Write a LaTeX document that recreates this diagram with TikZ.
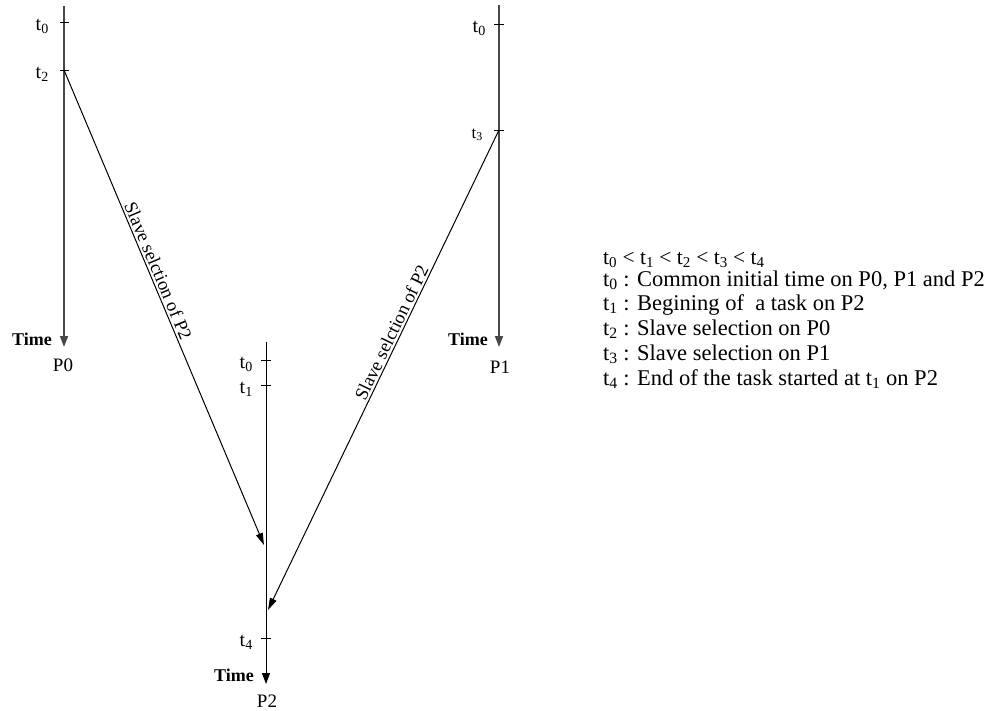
\documentclass[tikz,border=0pt]{standalone}
\usepackage{fontspec}
\setmainfont{Liberation Serif}
\usetikzlibrary{arrows.meta}
\begin{document}
\begin{tikzpicture}[x=1pt,y=-1pt,
  axisg/.style={line width=1.6pt, draw=black!72, -{Triangle[width=8pt,length=11pt]}},
  axisb/.style={line width=1pt, draw=black, -{Triangle[width=8pt,length=11pt]}},
  msg/.style={line width=1pt, draw=black, -{Triangle[width=7pt,length=12pt]}},
  tickmark/.style={line width=1pt, draw=black},
  tlab/.style={inner sep=0pt, anchor=base east, font=\fontsize{20}{23}\selectfont},
  tlabs/.style={inner sep=0pt, anchor=base east, font=\fontsize{17}{20}\selectfont},
  timelab/.style={inner sep=0pt, anchor=base east, font=\fontsize{18}{21}\selectfont\bfseries},
  plab/.style={inner sep=0pt, anchor=base, font=\fontsize{19}{22}\selectfont},
  slab/.style={inner sep=2pt, font=\fontsize{18.5}{21}\selectfont, sloped, above},
  leg/.style={inner sep=0pt, anchor=base west, font=\fontsize{22.5}{26}\selectfont},
  legsmall/.style={inner sep=0pt, anchor=base west, font=\fontsize{21.5}{25}\selectfont}
]
\useasboundingbox (0,0) rectangle (991,710);

% ---- P0 axis
\coordinate (p0top) at (64,6);
\coordinate (p0end) at (64,347);
\coordinate (p0t0) at (64,22);
\coordinate (p0t2) at (64,70);
\draw[axisg] (p0top) -- (p0end);
\draw[tickmark] (p0t0) ++(-4,0) -- ++(9,0);
\draw[tickmark] (p0t2) ++(-4,0) -- ++(9,0);
\node[tlab] (l0t0) at (49,30) {t\textsubscript{0}};
\node[tlab] (l0t2) at (49,78) {t\textsubscript{2}};
\node[timelab] (time0) at (52,345) {Time};
\node[plab] (P0) at (63,371) {P0};

% ---- P1 axis
\coordinate (p1top) at (499,5);
\coordinate (p1end) at (499,347);
\coordinate (p1t0) at (499,24);
\coordinate (p1t3) at (499,130);
\draw[axisg] (p1top) -- (p1end);
\draw[tickmark] (p1t0) ++(-5,0) -- ++(10,0);
\draw[tickmark] (p1t3) ++(-5,0) -- ++(10,0);
\node[tlab] (l1t0) at (486,32) {t\textsubscript{0}};
\node[tlabs] (l1t3) at (483,138) {t\textsubscript{3}};
\node[timelab] (time1) at (488,345) {Time};
\node[plab] (P1) at (500,373) {P1};

% ---- P2 axis
\coordinate (p2top) at (266,342);
\coordinate (p2end) at (266,684);
\coordinate (p2t0) at (266,360);
\coordinate (p2t1) at (266,385);
\coordinate (p2t4) at (266,638);
\draw[axisb] (p2top) -- (p2end);
\draw[tickmark] (p2t0) ++(-5,0) -- ++(10,0);
\draw[tickmark] (p2t1) ++(-5,0) -- ++(10,0);
\draw[tickmark] (p2t4) ++(-5,0) -- ++(10,0);
\node[tlab] (l2t0) at (253,368) {t\textsubscript{0}};
\node[tlab] (l2t1) at (253,393) {t\textsubscript{1}};
\node[tlab] (l2t4) at (253,646) {t\textsubscript{4}};
\node[timelab] (time2) at (254,681) {Time};
\node[plab] (P2) at (267,707) {P2};

% ---- messages
\coordinate (m1end) at (264,545);
\coordinate (m2end) at (268,610);
\draw[msg] (p0t2) -- node[slab, pos=0.43] (s1) {Slave selction of P2} (m1end);
\draw[msg] (p1t3) -- node[slab, pos=0.43] (s2) {Slave selction of P2} (m2end);

% ---- legend
\node[legsmall] (lg0) at (603,264) {t\textsubscript{0} {\textless} t\textsubscript{1} {\textless} t\textsubscript{2} {\textless} t\textsubscript{3} {\textless} t\textsubscript{4}};
\node[leg] (lg1) at (603,286) {t\textsubscript{0} : Common initial time on P0, P1 and P2};
\node[leg] (lg2) at (603,310) {t\textsubscript{1} : Begining of\ \ a task on P2};
\node[leg] (lg3) at (603,335) {t\textsubscript{2} : Slave selection on P0};
\node[leg] (lg4) at (603,360) {t\textsubscript{3} : Slave selection on P1};
\node[leg] (lg5) at (603,385) {t\textsubscript{4} : End of the task started at t\textsubscript{1} on P2};
\end{tikzpicture}
\end{document}
